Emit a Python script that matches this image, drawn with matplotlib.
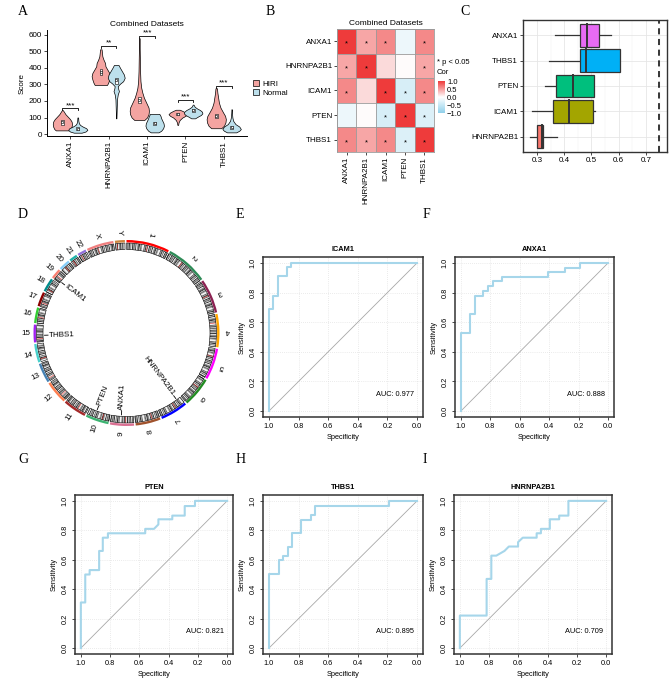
import numpy as np
import matplotlib
matplotlib.use("Agg")
import matplotlib.pyplot as plt
from matplotlib.patches import Wedge, Rectangle, Patch
from matplotlib.colors import LinearSegmentedColormap

plt.rcParams["font.family"] = ["Liberation Sans", "DejaVu Sans"]
plt.rcParams["axes.unicode_minus"] = True

# ---------------- data ----------------
GENES = ["ANXA1", "HNRNPA2B1", "ICAM1", "PTEN", "THBS1"]

# violin outlines: score levels and half-widths (category units)
HIRI_Y = [[22, 30, 45, 60, 75, 90, 105, 120, 135, 145],
          [297, 310, 330, 350, 370, 390, 410, 430, 450, 470, 490, 513],
          [85, 100, 120, 140, 160, 180, 200, 220, 250, 280, 320, 380, 450, 520, 580],
          [55, 70, 85, 100, 110, 120, 130, 140, 147],
          [35, 50, 70, 90, 110, 130, 160, 190, 220, 250, 277]]
HIRI_W = [[0.17, 0.21, 0.24, 0.25, 0.24, 0.2, 0.14, 0.08, 0.04, 0.01],
          [0.16, 0.19, 0.22, 0.24, 0.22, 0.17, 0.12, 0.11, 0.07, 0.04, 0.03, 0.02],
          [0.13, 0.2, 0.24, 0.25, 0.24, 0.2, 0.16, 0.12, 0.08, 0.05, 0.03, 0.02, 0.015, 0.01, 0.01],
          [0.01, 0.02, 0.05, 0.12, 0.2, 0.24, 0.2, 0.12, 0.05],
          [0.13, 0.2, 0.24, 0.25, 0.23, 0.18, 0.11, 0.07, 0.05, 0.03, 0.02]]
NORM_Y = [[8, 15, 25, 35, 45, 55, 65, 80, 100],
          [95, 130, 170, 210, 240, 260, 275, 290, 305, 320, 340, 360, 380, 400, 418],
          [10, 20, 35, 50, 65, 80, 95, 110, 122],
          [95, 105, 115, 125, 135, 145, 155, 165, 178],
          [10, 20, 30, 45, 60, 80, 100, 125, 150]]
NORM_W = [[0.1, 0.2, 0.25, 0.22, 0.13, 0.06, 0.03, 0.015, 0.01],
          [0.005, 0.01, 0.015, 0.02, 0.04, 0.07, 0.05, 0.04, 0.1, 0.18, 0.22, 0.2, 0.15, 0.1, 0.06],
          [0.1, 0.17, 0.22, 0.24, 0.23, 0.2, 0.17, 0.15, 0.12],
          [0.05, 0.12, 0.2, 0.24, 0.23, 0.18, 0.1, 0.04, 0.01],
          [0.12, 0.2, 0.24, 0.2, 0.1, 0.04, 0.02, 0.01, 0.005]]
HIRI_MED = [70, 375, 205, 120, 110]
HIRI_Q1 = [55, 355, 188, 113, 95]
HIRI_Q3 = [85, 395, 226, 128, 122]
NORM_MED = [30, 325, 65, 145, 40]
NORM_Q1 = [22, 300, 55, 135, 30]
NORM_Q3 = [40, 340, 75, 152, 50]
SIG_Y = [155, 533, 594, 206, 291]
SIG_TXT = ["***", "**", "***", "***", "***"]

# correlation heatmap (panel B)
COR = np.array([[1.00, 0.45, 0.60, -0.15, 0.60],
                [0.45, 1.00, 0.18, 0.02, 0.45],
                [0.60, 0.18, 1.00, -0.35, 0.60],
                [-0.15, 0.02, -0.35, 1.00, -0.30],
                [0.60, 0.45, 0.60, -0.30, 1.00]])
SIG = np.array([[1, 1, 1, 0, 1],
                [1, 1, 0, 0, 1],
                [1, 0, 1, 1, 1],
                [0, 0, 1, 1, 1],
                [1, 1, 1, 1, 1]])

# boxplot (panel C), top to bottom
C_GENES = ["ANXA1", "THBS1", "PTEN", "ICAM1", "HNRNPA2B1"]
C_WLO = [0.367, 0.343, 0.331, 0.282, 0.273]
C_Q1 = [0.459, 0.459, 0.371, 0.359, 0.300]
C_MED = [0.483, 0.481, 0.432, 0.416, 0.318]
C_Q3 = [0.526, 0.605, 0.508, 0.504, 0.324]
C_WHI = [0.572, 0.605, 0.508, 0.514, 0.373]
C_COL = ["#E76BF3", "#00B0F6", "#00BF7D", "#A3A500", "#F8766D"]
C_VLINE = 0.748

# circos (panel D)
CHROMS = [str(i) for i in range(1, 23)] + ["X", "Y"]
CHROM_LEN = [249, 243, 198, 191, 181, 171, 159, 145, 138, 134, 135, 133,
             114, 107, 102, 90, 83, 80, 59, 64, 47, 51, 156, 57]
CENTRO = [125, 93, 91, 50, 48, 60, 60, 45, 49, 40, 53, 35,
          17, 17, 19, 36, 24, 17, 26, 28, 13, 15, 60, 12]
CHROM_COL = ["#FF0000", "#2E8B57", "#8B2252", "#FFA500", "#FF00FF", "#228B22",
             "#0000FF", "#A0522D", "#DB7093", "#3CB371", "#A52A2A", "#FF7F50",
             "#4682B4", "#48D1CC", "#A020F0", "#32CD32", "#8B0000", "#008B8B",
             "#FA8072", "#87CEFA", "#20B2AA", "#9370DB", "#F08080", "#CD853F"]
STAIN = [0, 3, 2, 4, 1, 3, 0, 4, 2, 3, 1, 4, 0, 2, 3, 4, 1, 3, 2, 0]
STAIN_COL = ["#F2F2F2", "#B4B4B4", "#878787", "#4A4A4A", "#0A0A0A"]
GENE_NAMES = ["ICAM1", "THBS1", "PTEN", "ANXA1", "HNRNPA2B1"]
GENE_CHR = ["19", "15", "10", "9", "7"]
GENE_POS = [10.3, 39.6, 87.9, 75.8, 26.2]

# ROC curves (specificity, sensitivity)
ROC_TITLES = ["ICAM1", "ANXA1", "PTEN", "THBS1", "HNRNPA2B1"]
ROC_AUC = ["0.977", "0.888", "0.821", "0.895", "0.709"]
ROC_SPEC = [
    [1, 1, 0.97, 0.97, 0.94, 0.94, 0.88, 0.88, 0.85, 0.85, 0],
    [1, 1, 0.94, 0.94, 0.905, 0.905, 0.85, 0.85, 0.815, 0.815, 0.78, 0.78, 0.72, 0.72,
     0.41, 0.41, 0.29, 0.29, 0.19, 0.19, 0],
    [1, 1, 0.97, 0.97, 0.94, 0.94, 0.875, 0.875, 0.85, 0.85, 0.815, 0.815, 0.56, 0.56,
     0.5, 0.47, 0.47, 0.375, 0.375, 0.29, 0.29, 0.22, 0.22, 0],
    [1, 1, 0.935, 0.935, 0.906, 0.906, 0.874, 0.874, 0.843, 0.843, 0.782, 0.782, 0.719,
     0.719, 0.688, 0.688, 0.191, 0.191, 0],
    [1, 1, 0.817, 0.817, 0.785, 0.785, 0.751, 0.695, 0.665, 0.602, 0.602, 0.57, 0.475,
     0.475, 0.446, 0.446, 0.385, 0.385, 0.321, 0.321, 0.258, 0.258, 0]]
ROC_SENS = [
    [0, 0.69, 0.69, 0.78, 0.78, 0.91, 0.91, 0.97, 0.97, 1, 1],
    [0, 0.53, 0.53, 0.656, 0.656, 0.78, 0.78, 0.81, 0.81, 0.845, 0.845, 0.875, 0.875, 0.905,
     0.905, 0.937, 0.937, 0.969, 0.969, 1, 1],
    [0, 0.31, 0.31, 0.5, 0.5, 0.53, 0.53, 0.66, 0.66, 0.75, 0.75, 0.78, 0.78, 0.81,
     0.81, 0.84, 0.875, 0.875, 0.9, 0.9, 0.965, 0.965, 1, 1],
    [0, 0.506, 0.506, 0.596, 0.596, 0.625, 0.625, 0.69, 0.69, 0.78, 0.78, 0.872, 0.872,
     0.903, 0.903, 0.966, 0.966, 1, 1],
    [0, 0.221, 0.221, 0.47, 0.47, 0.628, 0.628, 0.66, 0.69, 0.69, 0.72, 0.75, 0.75,
     0.78, 0.78, 0.81, 0.81, 0.875, 0.875, 0.9, 0.9, 1, 1]]

C_HIRI = "#F4A4A1"
C_NORM = "#BDE0EC"
C_ROC = "#A6D6EA"

W, H = 669, 685
fig = plt.figure(figsize=(W / 100, H / 100), dpi=100)


def px_axes(x0, y0, x1, y1):
    return fig.add_axes([x0 / W, 1 - y1 / H, (x1 - x0) / W, (y1 - y0) / H])


FS = 5.8      # ggplot-style panels
FSR = 5.3     # base-R ROC panels
SERIF = ["Liberation Serif", "DejaVu Serif"]
for lab, x, y in [("A", 18, 5), ("B", 266, 5), ("C", 460, 5), ("D", 18, 208),
                  ("E", 236, 208), ("F", 423, 208), ("G", 18, 453), ("H", 236, 453),
                  ("I", 423, 453)]:
    fig.text(x / W, 1 - y / H, lab, family=SERIF, fontsize=10, va="top", ha="left")

# ---------------- A: violins ----------------
axA = px_axes(47, 30, 247, 136)
off = 0.2
for i in range(len(GENES)):
    for sgn, ys, ws, col, q1, q3, med in [
            (-1, HIRI_Y[i], HIRI_W[i], C_HIRI, HIRI_Q1[i], HIRI_Q3[i], HIRI_MED[i]),
            (1, NORM_Y[i], NORM_W[i], C_NORM, NORM_Q1[i], NORM_Q3[i], NORM_MED[i])]:
        xc = i + 1 + sgn * off
        w = np.array(ws)
        axA.fill_betweenx(ys, xc - w, xc + w, facecolor=col, edgecolor="black", lw=0.5)
        axA.add_patch(Rectangle((xc - 0.035, q1), 0.07, q3 - q1, facecolor="white",
                                edgecolor="black", lw=0.4, zorder=3))
        axA.plot(xc, med, "o", ms=1.8, mfc="white", mec="black", mew=0.4, zorder=4)
    x1, x2 = i + 1 - off, i + 1 + off
    y = SIG_Y[i]
    axA.plot([x1, x1, x2, x2], [y - 12, y, y, y - 12], color="black", lw=0.6)
    axA.text((x1 + x2) / 2, y - 4, SIG_TXT[i], ha="center", va="bottom", fontsize=FS)
axA.set_xlim(0.4, 5.6)
axA.set_ylim(-12, 630)
axA.set_xticks(range(1, 6))
axA.set_xticklabels(GENES, rotation=90, fontsize=FS)
axA.set_yticks(range(0, 700, 100))
axA.tick_params(labelsize=FS, length=2, width=0.5, pad=1.5)
axA.set_ylabel("Score", fontsize=FS, labelpad=2)
axA.set_title("Combined Datasets", fontsize=FS + 0.2, pad=3)
for s in ["top", "right"]:
    axA.spines[s].set_visible(False)
for s in ["left", "bottom"]:
    axA.spines[s].set_linewidth(0.7)
fig.legend(handles=[Patch(facecolor=C_HIRI, edgecolor="black", lw=0.5, label="HIRI"),
                    Patch(facecolor=C_NORM, edgecolor="black", lw=0.5, label="Normal")],
           loc="upper left", bbox_to_anchor=(249 / W, 1 - 76 / H), frameon=False,
           fontsize=FS, handlelength=0.8, handleheight=0.8, handletextpad=0.3,
           labelspacing=0.1, borderpad=0)

# ---------------- B: correlation heatmap ----------------
axB = px_axes(337, 29, 434, 152)
cmap = LinearSegmentedColormap.from_list("cor", ["#8ECFEA", "#FFFFFF", "#EE3B3B"])
im = axB.imshow(COR, cmap=cmap, vmin=-1, vmax=1, aspect="auto")
for k in range(6):
    axB.axhline(k - 0.5, color="#9A9A9A", lw=0.6)
    axB.axvline(k - 0.5, color="#9A9A9A", lw=0.6)
for r in range(5):
    for c in range(5):
        if SIG[r, c]:
            axB.text(c, r + 0.12, "*", ha="center", va="center", fontsize=FS - 0.3)
axB.set_xticks(range(5))
axB.set_xticklabels(GENES, rotation=90, fontsize=FS)
axB.set_yticks(range(5))
axB.set_yticklabels(GENES, fontsize=FS)
axB.tick_params(length=2, width=0.5, pad=1.5)
for s in axB.spines.values():
    s.set_color("#9A9A9A")
    s.set_linewidth(0.6)
axB.set_title("Combined Datasets", fontsize=FS + 0.2, pad=3)
cax = px_axes(438, 81, 445, 113)
cb = fig.colorbar(im, cax=cax, ticks=[-1, -0.5, 0, 0.5, 1])
cb.ax.set_yticklabels(["\u22121.0", "\u22120.5", "0.0", "0.5", "1.0"])
cb.ax.tick_params(labelsize=FS - 0.3, length=0, pad=1.5)
cb.outline.set_visible(False)
fig.text(437 / W, 1 - 63 / H, "* p < 0.05", fontsize=FS - 0.3, va="center", ha="left")
fig.text(437 / W, 1 - 73 / H, "Cor", fontsize=FS - 0.3, va="center", ha="left")

# ---------------- C: boxplots ----------------
axC = px_axes(523, 20, 667, 152)
n = len(C_GENES)
for i in range(n):
    y = n - i
    axC.plot([C_WLO[i], C_Q1[i]], [y, y], color="#333333", lw=0.9, zorder=2)
    axC.plot([C_Q3[i], C_WHI[i]], [y, y], color="#333333", lw=0.9, zorder=2)
    axC.add_patch(Rectangle((C_Q1[i], y - 0.45), C_Q3[i] - C_Q1[i], 0.9,
                            facecolor=C_COL[i], edgecolor="#333333", lw=0.9, zorder=3))
    axC.plot([C_MED[i], C_MED[i]], [y - 0.45, y + 0.45], color="#333333", lw=1.4, zorder=4)
axC.axvline(C_VLINE, color="black", lw=1.1, ls=(0, (4, 3)), zorder=2)
axC.set_xlim(0.249, 0.777)
axC.set_ylim(0.4, 5.6)
axC.set_xticks([0.3, 0.4, 0.5, 0.6, 0.7])
axC.set_xticks([0.25, 0.35, 0.45, 0.55, 0.65, 0.75], minor=True)
axC.set_yticks(range(1, n + 1))
axC.set_yticklabels(C_GENES[::-1], fontsize=FS)
axC.tick_params(labelsize=FS, length=2, width=0.5, pad=1.5)
axC.tick_params(which="minor", length=0)
axC.grid(True, which="major", color="#E6E6E6", lw=0.6)
axC.grid(True, which="minor", axis="x", color="#F0F0F0", lw=0.35)
axC.set_axisbelow(True)
for s in axC.spines.values():
    s.set_color("#333333")
    s.set_linewidth(1.0)

# ---------------- D: circos ----------------
axD = px_axes(16.5, 223, 236.5, 443)
axD.set_xlim(-110, 110)
axD.set_ylim(-110, 110)
axD.set_aspect("equal")
axD.axis("off")
gap = 1.0
dpm = (360 - gap * len(CHROMS)) / sum(CHROM_LEN)
starts = np.concatenate([[0], np.cumsum(CHROM_LEN)[:-1]])


def ang(ci, pos):
    return 90 - (ci * gap + (starts[ci] + pos) * dpm)


R_IN, R_OUT = 83.5, 90.0
for ci, ch in enumerate(CHROMS):
    L = CHROM_LEN[ci]
    band = 5.0
    b0, k = 0.0, ci * 3
    while b0 < L:
        b1 = min(b0 + band, L)
        st = STAIN[k % len(STAIN)]
        axD.add_patch(Wedge((0, 0), R_OUT, ang(ci, b1), ang(ci, b0), width=R_OUT - R_IN,
                            facecolor=STAIN_COL[st], edgecolor="none"))
        b0, k = b1, k + 1
    c = CENTRO[ci]
    axD.add_patch(Wedge((0, 0), R_OUT, ang(ci, c + 1.5), ang(ci, c - 1.5),
                        width=R_OUT - R_IN, facecolor="#E8231F", edgecolor="none"))
    axD.add_patch(Wedge((0, 0), R_OUT, ang(ci, L), ang(ci, 0), width=R_OUT - R_IN,
                        facecolor="none", edgecolor="black", lw=0.4))
    axD.add_patch(Wedge((0, 0), 93.0, ang(ci, L), ang(ci, 0), width=2.4,
                        facecolor=CHROM_COL[ci], edgecolor="none"))
    am = ang(ci, L / 2)
    t = np.deg2rad(am)
    axD.text(101 * np.cos(t), 101 * np.sin(t), ch, rotation=(am + 180) % 360,
             ha="center", va="center", fontsize=FS, rotation_mode="anchor")

for g, ch, pos in zip(GENE_NAMES, GENE_CHR, GENE_POS):
    ci = CHROMS.index(ch)
    a = ang(ci, pos) % 360
    t = np.deg2rad(a)
    axD.plot([82 * np.cos(t), 78.5 * np.cos(t)], [82 * np.sin(t), 78.5 * np.sin(t)],
             color="black", lw=0.6)
    x, y = 77.5 * np.cos(t), 77.5 * np.sin(t)
    if 90 < a < 270:
        axD.text(x, y, g, rotation=a - 180, ha="left", va="center",
                 rotation_mode="anchor", fontsize=FS)
    else:
        axD.text(x, y, g, rotation=a, ha="right", va="center",
                 rotation_mode="anchor", fontsize=FS)

# ---------------- E-I: ROC ----------------
ROC_BOX = [(263, 257, 423, 417), (455, 257, 614, 417), (75, 495, 233, 654),
           (263, 495, 423, 654), (454, 495, 612, 654)]
for k, box in enumerate(ROC_BOX):
    ax = px_axes(*box)
    ticks = [0, 0.2, 0.4, 0.6, 0.8, 1.0]
    for v in ticks:
        ax.axhline(v, color="#D8D8D8", lw=0.5, ls=(0, (1, 2)), zorder=0)
        ax.axvline(v, color="#D8D8D8", lw=0.5, ls=(0, (1, 2)), zorder=0)
    ax.plot([1, 0], [0, 1], color="#A8A8A8", lw=0.6, zorder=1)
    ax.plot(ROC_SPEC[k], ROC_SENS[k], color=C_ROC, lw=1.5, zorder=2)
    ax.set_xlim(1.04, -0.04)
    ax.set_ylim(-0.04, 1.04)
    ax.set_xticks(ticks)
    ax.set_yticks(ticks)
    ax.set_xticklabels(["0.0", "0.2", "0.4", "0.6", "0.8", "1.0"])
    ax.set_yticklabels(["0.0", "0.2", "0.4", "0.6", "0.8", "1.0"], rotation=90, va="center")
    ax.tick_params(labelsize=FSR, length=2.5, width=0.5, pad=2)
    ax.set_xlabel("Specificity", fontsize=FSR, labelpad=3)
    ax.set_ylabel("Sensitivity", fontsize=FSR, labelpad=3)
    ax.set_title(ROC_TITLES[k], fontsize=FSR, fontweight="bold", pad=4)
    ax.text(0.02, 0.11, "AUC: " + ROC_AUC[k], ha="right", va="center", fontsize=FSR)
    for s in ax.spines.values():
        s.set_color("#333333")
        s.set_linewidth(1.1)

fig.savefig("out.png", dpi=100)
